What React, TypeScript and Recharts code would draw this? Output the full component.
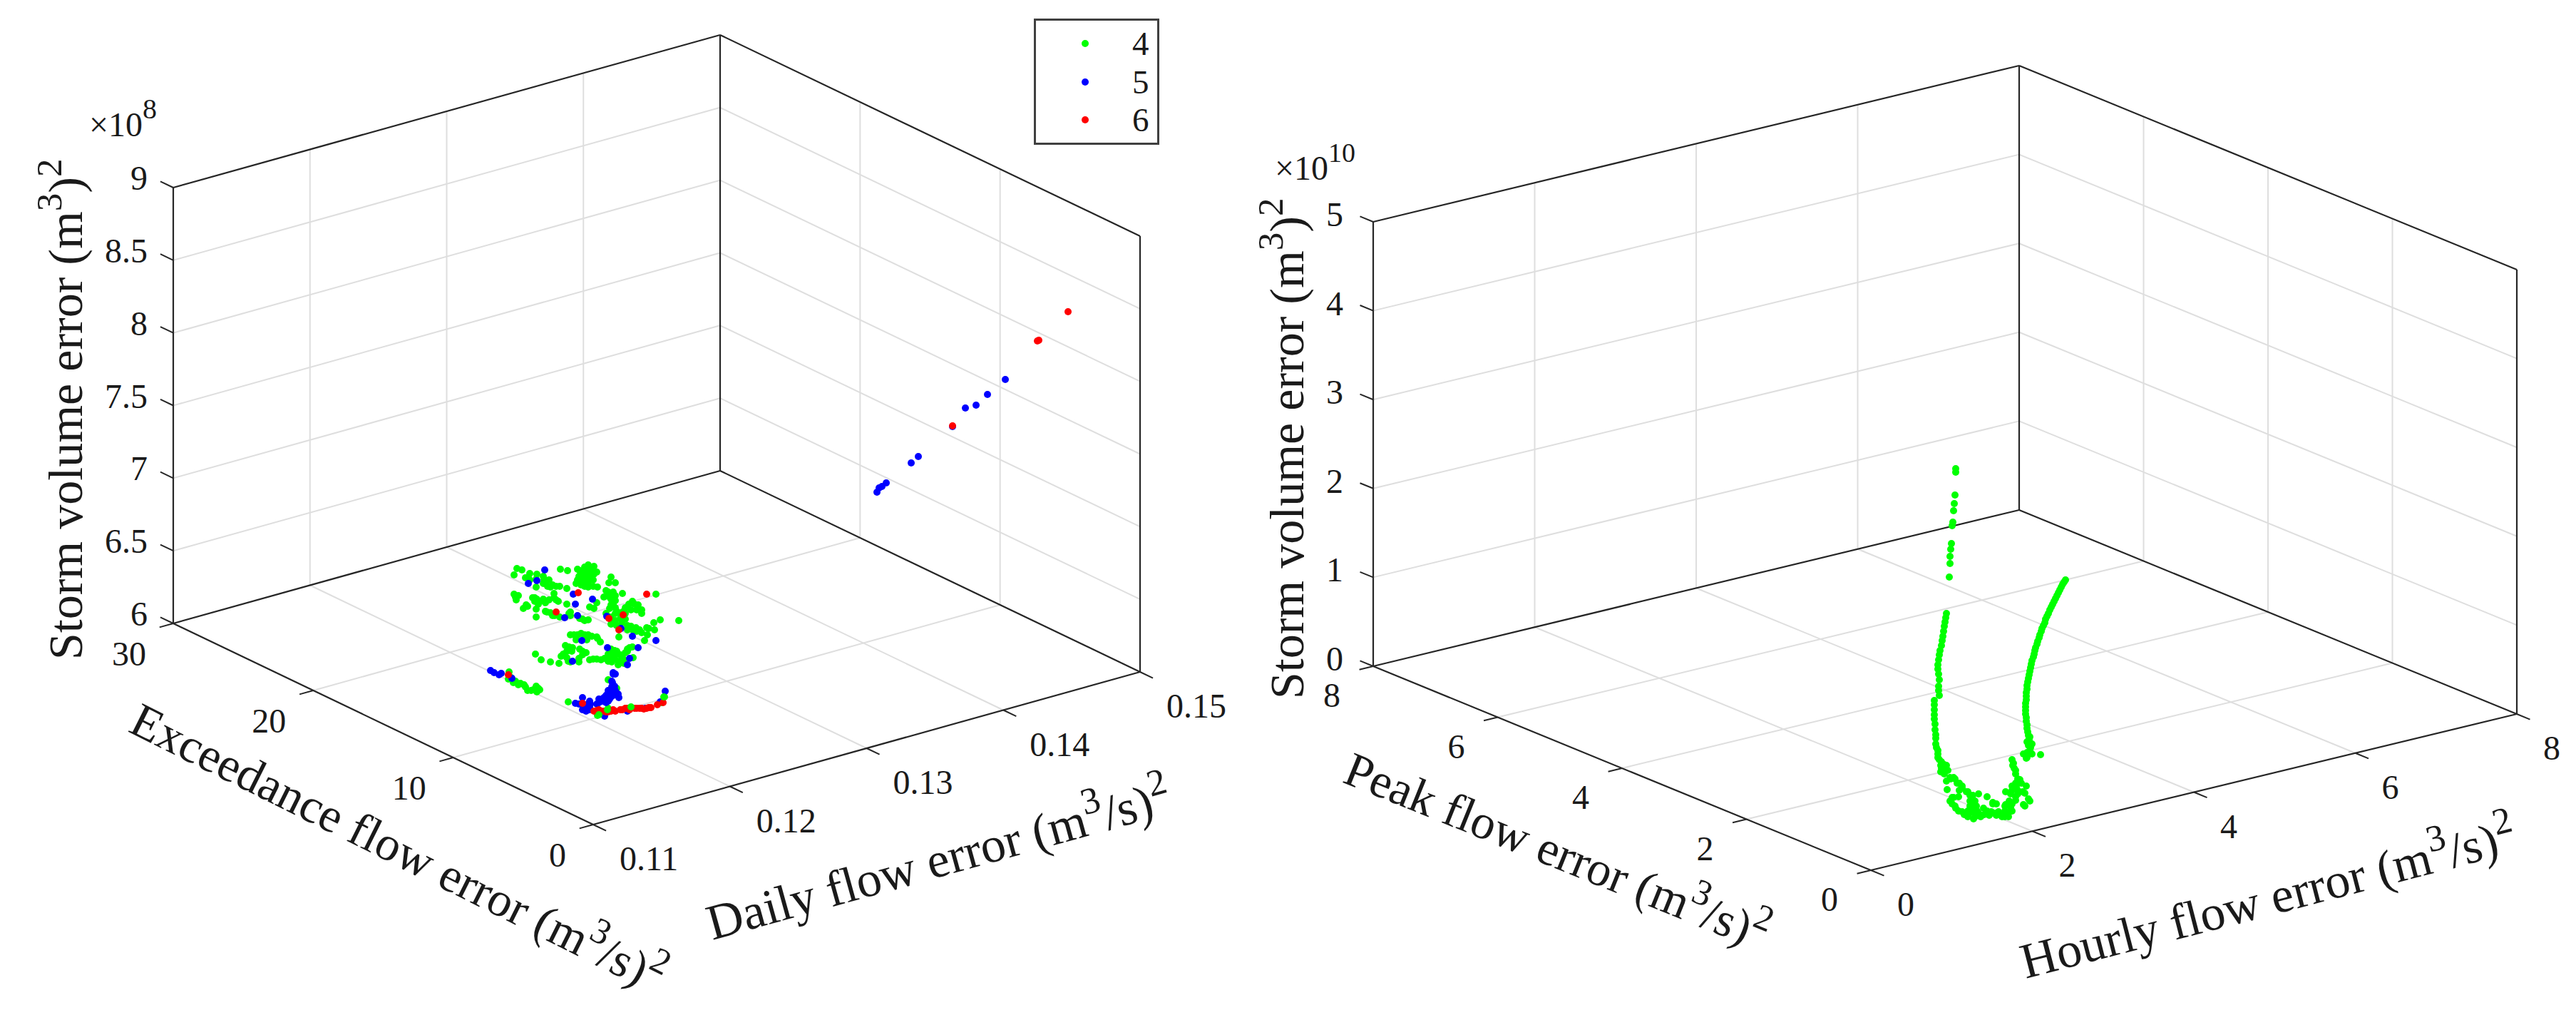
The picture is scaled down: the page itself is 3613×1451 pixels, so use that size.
import {
  Legend,
  ReferenceDot,
  ReferenceLine,
  Scatter,
  ScatterChart,
  XAxis,
  YAxis,
} from "recharts";

type Pair = [number, number];

const FONT = "'Liberation Serif', 'Times New Roman', serif";
const AXIS_COLOR = "#262626";
const GRID_COLOR = "#dedede";
const TEXT_COLOR = "#1a1a1a";

// tick labels
const dailyTicks = ["0.11", "0.12", "0.13", "0.14", "0.15"];
const exceedanceTicks = ["0", "10", "20", "30"];
const volumeTicksLeft = ["6", "6.5", "7", "7.5", "8", "8.5", "9"];
const hourlyTicks = ["0", "2", "4", "6", "8"];
const peakTicks = ["0", "2", "4", "6", "8"];
const volumeTicksRight = ["0", "1", "2", "3", "4", "5"];

// points, in projected picture coordinates
const cluster4: Pair[] = [
  [725, 797], [732, 799], [721, 806], [743, 804], [741, 810], [753, 805], [752, 812], [763, 812],
  [770, 813], [762, 818], [752, 823], [768, 822], [775, 820], [785, 822], [795, 825], [777, 832],
  [786, 798], [796, 800], [810, 798], [825, 792], [833, 794], [817, 803], [825, 800], [837, 802],
  [812, 808], [828, 808], [817, 815], [808, 818], [825, 817], [838, 823], [825, 823], [815, 820],
  [857, 809], [854, 817], [863, 817], [721, 833], [724, 841], [727, 835], [747, 838], [753, 840],
  [762, 840], [755, 847], [770, 841], [780, 841], [740, 850], [734, 853], [752, 854], [752, 865],
  [765, 857], [772, 859], [778, 863], [795, 847], [798, 860], [800, 863], [817, 868], [825, 869],
  [850, 828], [860, 830], [873, 832], [855, 837], [847, 837], [863, 835], [920, 833], [857, 848],
  [863, 852], [827, 851], [837, 845], [833, 853], [887, 843], [895, 848], [880, 851], [900, 860],
  [885, 855], [877, 860], [850, 860], [863, 860], [870, 867], [858, 873], [877, 868], [865, 877],
  [917, 873], [926, 869], [952, 870], [885, 878], [897, 883], [910, 881], [918, 883], [908, 890],
  [904, 898], [868, 893], [882, 880], [892, 880], [805, 890], [815, 888], [825, 890], [837, 893],
  [842, 900], [823, 897], [808, 897], [793, 905], [803, 908], [795, 913], [817, 913], [787, 920],
  [795, 922], [751, 917], [759, 925], [772, 928], [784, 930], [800, 928], [812, 928], [817, 918],
  [832, 924], [843, 925], [853, 927], [860, 917], [862, 923], [870, 918], [870, 928], [857, 910],
  [865, 913], [880, 913], [887, 907], [888, 922], [875, 925], [714, 942], [713, 952], [720, 957],
  [727, 960], [735, 960], [740, 968], [748, 967], [755, 965], [753, 970], [797, 984], [853, 953],
  [865, 965], [932, 977], [928, 985], [838, 1003], [853, 993], [885, 992], [847, 1002],
  [820, 795], [830, 798], [813, 800], [822, 805], [833, 805], [817, 810], [823, 812], [832, 813],
  [810, 813], [820, 822], [832, 822], [737, 810], [743, 813], [762, 808], [765, 817], [772, 823],
  [780, 822], [723, 837], [750, 843], [758, 843], [765, 845], [777, 838], [783, 843], [738, 848],
  [750, 838], [767, 858], [775, 863], [785, 865], [800, 858], [813, 867], [820, 870], [853, 830],
  [857, 840], [863, 842], [860, 847], [855, 853], [865, 857], [877, 852], [882, 847], [890, 847],
  [900, 855], [893, 855], [873, 858], [870, 860], [857, 865], [863, 870], [872, 873], [857, 875],
  [880, 877], [887, 883], [900, 887], [907, 880], [880, 883], [893, 885], [853, 917], [857, 922],
  [863, 918], [867, 927], [873, 922], [875, 930], [867, 932], [858, 928], [877, 915], [862, 912],
  [848, 923], [837, 924], [827, 925], [800, 890], [810, 890], [820, 890], [830, 892], [838, 895],
  [802, 913], [790, 917], [798, 907], [813, 910], [822, 915], [812, 923], [797, 927], [880, 910],
  [883, 908], [717, 950], [723, 955], [730, 958], [737, 963], [745, 968], [752, 962], [757, 967],
];

const cluster5: Pair[] = [
  [764, 799], [741, 818], [753, 814], [804, 833], [831, 840], [807, 847], [792, 866], [810, 863],
  [851, 864], [871, 881], [887, 892], [920, 898], [816, 898], [852, 908], [895, 908], [883, 923],
  [880, 932], [803, 927], [688, 940], [693, 943], [700, 946], [703, 944], [718, 951], [860, 943],
  [863, 945], [859, 957], [858, 963], [853, 968], [863, 968], [850, 975], [860, 975], [845, 980],
  [855, 980], [840, 985], [850, 985], [867, 973], [868, 978], [817, 978], [807, 986], [827, 983],
  [818, 993], [827, 995], [837, 987], [933, 969], [926, 984], [905, 993], [880, 997], [848, 1004],
  [823, 988], [857, 970], [852, 973], [862, 972], [847, 978], [857, 977], [840, 980], [845, 983],
  [853, 983], [858, 955], [862, 962], [860, 945], [822, 997], [827, 992], [817, 995], [828, 987],
  [812, 987], [1230, 690], [1233, 684], [1237, 682], [1243, 677], [1278, 649], [1288, 640],
  [1336, 598], [1354, 572], [1369, 568], [1385, 553], [1410, 532],
];

const cluster6: Pair[] = [
  [811, 831], [907, 833], [780, 858], [874, 862], [854, 867], [868, 883], [817, 986], [837, 996],
  [843, 997], [850, 998], [857, 997], [863, 997], [870, 995], [877, 993], [883, 995], [890, 993],
  [897, 993], [903, 994], [910, 992], [913, 992], [922, 988], [930, 985], [840, 995], [713, 946],
  [833, 997], [847, 997], [853, 998], [860, 995], [873, 995], [880, 993], [893, 993], [900, 993],
  [907, 993], [1336, 597], [1457, 477], [1455, 478], [1498, 437],
];

// the few green points that sit over the red tail
const clusterOver4: Pair[] = [[840, 1002], [852, 995], [885, 991], [931, 977]];

const curve4: Pair[] = [
  [2743, 657], [2743, 662], [2742, 694], [2741, 706], [2740, 716], [2739, 732], [2738, 737],
  [2737, 762], [2736, 770], [2735, 780], [2735, 790], [2734, 809],
  [2730, 860], [2729, 866], [2728, 872], [2727, 878], [2726, 885], [2725, 892], [2724, 898],
  [2723, 905], [2721, 912], [2720, 918], [2719, 925], [2718, 932], [2718, 938], [2719, 945],
  [2720, 953], [2719, 962], [2719, 968], [2720, 975], [2713, 982], [2713, 988], [2713, 995],
  [2713, 1002], [2713, 1008], [2714, 1015], [2714, 1023], [2715, 1030], [2715, 1035], [2715, 1043],
  [2716, 1048], [2718, 1052], [2718, 1057], [2718, 1062], [2723, 1068], [2723, 1077], [2730, 1073],
  [2725, 1083], [2732, 1080], [2740, 1090], [2730, 1095], [2736, 1092], [2748, 1098], [2752, 1102],
  [2731, 1107], [2760, 1110], [2748, 1108], [2775, 1113], [2787, 1117], [2738, 1118], [2735, 1123],
  [2742, 1130], [2747, 1137], [2755, 1142], [2762, 1140], [2770, 1145], [2763, 1130], [2770, 1123],
  [2767, 1115], [2780, 1143], [2790, 1143], [2773, 1137], [2782, 1133], [2795, 1127], [2800, 1143],
  [2808, 1145], [2817, 1145], [2822, 1137], [2812, 1137], [2803, 1138], [2793, 1138], [2813, 1128],
  [2822, 1127], [2813, 1110], [2827, 1122], [2820, 1113], [2830, 1113], [2838, 1128], [2847, 1123],
  [2840, 1112], [2842, 1102], [2833, 1093], [2822, 1102], [2828, 1103], [2827, 1085], [2825, 1077],
  [2824, 1070], [2822, 1065], [2862, 1058], [2838, 1057], [2843, 1062], [2850, 1057], [2848, 1048],
  [2843, 1040], [2847, 1033],
  [2720, 1065], [2722, 1073], [2727, 1072], [2728, 1078], [2722, 1082], [2727, 1085], [2735, 1090],
  [2742, 1092], [2745, 1098], [2752, 1105], [2758, 1110], [2763, 1115], [2763, 1123], [2768, 1130],
  [2772, 1130], [2760, 1137], [2752, 1138], [2743, 1133], [2738, 1127], [2740, 1118], [2747, 1117],
  [2775, 1140], [2783, 1142], [2787, 1137], [2767, 1138], [2760, 1145], [2768, 1148], [2778, 1145],
  [2797, 1140], [2807, 1142], [2812, 1145], [2817, 1140], [2820, 1132], [2812, 1130], [2818, 1123],
  [2827, 1117], [2830, 1108], [2822, 1108], [2827, 1098], [2835, 1098], [2830, 1092], [2827, 1080],
  [2823, 1073], [2837, 1110], [2840, 1130], [2845, 1120], [2795, 1125], [2800, 1127], [2843, 1055],
  [2847, 1052], [2842, 1063], [2850, 1043], [2845, 1045],
  [2897, 813], [2895, 816], [2893, 819], [2891, 823], [2889, 827], [2887, 831], [2885, 835],
  [2883, 839], [2881, 843], [2879, 847], [2877, 851], [2875, 855], [2873, 860], [2871, 864],
  [2869, 868], [2868, 873], [2866, 877], [2864, 881], [2863, 885], [2861, 890], [2860, 894],
  [2858, 899], [2857, 903], [2855, 908], [2854, 912], [2853, 917], [2852, 921], [2850, 926],
  [2849, 931], [2848, 936], [2847, 941], [2846, 946], [2845, 951], [2844, 956], [2843, 961],
  [2843, 966], [2842, 971], [2842, 976], [2842, 981], [2841, 986], [2841, 991], [2841, 996],
  [2841, 1001], [2842, 1006], [2842, 1011], [2843, 1016], [2843, 1021], [2844, 1026], [2845, 1031],
  [2846, 1036], [2847, 1041],
];

const rows = (pts: Pair[]) => pts.map(([px, py]) => ({ px, py }));

const dot = (color: string) => (props: unknown) => {
  const p = props as { cx: number; cy: number };
  return <circle cx={p.cx} cy={p.cy} r={5} fill={color} />;
};

// projected box of one 3D panel
interface Box {
  front: Pair;
  left: Pair;
  right: Pair;
  height: number;
}

const leftBox: Box = { front: [832, 1156], left: [243, 874], right: [1599, 942], height: 611 };
const rightBox: Box = { front: [2624, 1220], left: [1926, 934], right: [3530, 1001], height: 623 };

function project(b: Box, fx: number, fy: number, fz = 0): { x: number; y: number } {
  return {
    x: b.front[0] + fx * (b.right[0] - b.front[0]) + fy * (b.left[0] - b.front[0]),
    y: b.front[1] + fx * (b.right[1] - b.front[1]) + fy * (b.left[1] - b.front[1]) - fz * b.height,
  };
}

const fractions = (ticks: string[]) => {
  const lo = Number(ticks[0]);
  const hi = Number(ticks[ticks.length - 1]);
  return ticks.map((t) => (Number(t) - lo) / (hi - lo));
};

type Seg = [{ x: number; y: number }, { x: number; y: number }];

function seg(key: string, s: Seg, color: string, width: number) {
  return (
    <ReferenceLine key={key} segment={s} stroke={color} strokeWidth={width} ifOverflow="visible" />
  );
}

function gridLines(b: Box, xT: string[], yT: string[], zT: string[]) {
  const out = [];
  const inner = (a: number[]) => a.slice(1, -1);
  inner(fractions(xT)).forEach((f, i) => {
    out.push(seg(`gx${i}`, [project(b, f, 0), project(b, f, 1)], GRID_COLOR, 2));
    out.push(seg(`wx${i}`, [project(b, f, 1), project(b, f, 1, 1)], GRID_COLOR, 2));
  });
  inner(fractions(yT)).forEach((f, i) => {
    out.push(seg(`gy${i}`, [project(b, 0, f), project(b, 1, f)], GRID_COLOR, 2));
    out.push(seg(`wy${i}`, [project(b, 1, f), project(b, 1, f, 1)], GRID_COLOR, 2));
  });
  inner(fractions(zT)).forEach((f, i) => {
    out.push(seg(`zl${i}`, [project(b, 0, 1, f), project(b, 1, 1, f)], GRID_COLOR, 2));
    out.push(seg(`zr${i}`, [project(b, 1, 1, f), project(b, 1, 0, f)], GRID_COLOR, 2));
  });
  return out;
}

function frameLines(b: Box) {
  const edges: Seg[] = [
    [project(b, 0, 0), project(b, 1, 0)],
    [project(b, 0, 0), project(b, 0, 1)],
    [project(b, 0, 1), project(b, 1, 1)],
    [project(b, 1, 0), project(b, 1, 1)],
    [project(b, 0, 1, 1), project(b, 1, 1, 1)],
    [project(b, 1, 1, 1), project(b, 1, 0, 1)],
    [project(b, 0, 1), project(b, 0, 1, 1)],
    [project(b, 1, 1), project(b, 1, 1, 1)],
    [project(b, 1, 0), project(b, 1, 0, 1)],
  ];
  return edges.map((s, i) => seg(`edge${i}`, s, AXIS_COLOR, 2.2));
}

function tickMarks(b: Box, xT: string[], yT: string[], zT: string[]) {
  const unit = (a: Pair, c: Pair, len: number): Pair => {
    const dx = c[0] - a[0];
    const dy = c[1] - a[1];
    const n = Math.hypot(dx, dy);
    return [(dx / n) * len, (dy / n) * len];
  };
  const out = [];
  const alongY = unit(b.left, b.front, 20);
  const alongX = unit(b.right, b.front, 20);
  fractions(xT).forEach((f, i) => {
    const p = project(b, f, 0);
    out.push(seg(`tx${i}`, [p, { x: p.x + alongY[0], y: p.y + alongY[1] }], AXIS_COLOR, 2));
  });
  fractions(yT).forEach((f, i) => {
    const p = project(b, 0, f);
    out.push(seg(`ty${i}`, [p, { x: p.x + alongX[0], y: p.y + alongX[1] }], AXIS_COLOR, 2));
  });
  fractions(zT).forEach((f, i) => {
    const p = project(b, 0, 1, f);
    out.push(seg(`tz${i}`, [p, { x: p.x - alongY[0], y: p.y - alongY[1] }], AXIS_COLOR, 2));
  });
  return out;
}

type Part = [string, boolean?];

// free text placed through the chart's scales
function note(key: string, x: number, y: number, parts: Part[], o: {
  size: number;
  anchor?: "start" | "middle" | "end";
  angle?: number;
  central?: boolean;
  supSize?: number;
  supRise?: number;
}) {
  const render = (props: any) => {
    const vb = props.viewBox ?? {};
    const px = vb.x ?? x;
    const py = vb.y ?? y;
    const rise = o.supRise ?? o.size * 0.42;
    let raised = false;
    return (
      <text
        x={px}
        y={py}
        fontFamily={FONT}
        fontSize={o.size}
        fill={TEXT_COLOR}
        textAnchor={o.anchor ?? "start"}
        dominantBaseline={o.central ? "central" : "auto"}
        transform={o.angle ? `rotate(${o.angle} ${px} ${py})` : undefined}
      >
        {parts.map(([t, sup], i) => {
          const dy = sup ? (raised ? 0 : -rise) : raised ? rise : 0;
          raised = !!sup;
          return (
            <tspan key={i} dy={dy} fontSize={sup ? o.supSize ?? o.size * 0.75 : o.size}>
              {t}
            </tspan>
          );
        })}
      </text>
    );
  };
  return (
    <ReferenceDot key={key} x={x} y={y} r={0} fill="none" stroke="none" ifOverflow="visible" label={render} />
  );
}

const TICK_SIZE = 48;

function tickLabels(
  b: Box,
  xT: string[],
  yT: string[],
  zT: string[],
  off: { x: Pair; y: Pair; z: Pair },
) {
  const out = [];
  fractions(xT).forEach((f, i) => {
    const p = project(b, f, 0);
    out.push(note(`lx${i}`, p.x + off.x[0], p.y + off.x[1], [[xT[i]]], { size: TICK_SIZE, central: true }));
  });
  fractions(yT).forEach((f, i) => {
    const p = project(b, 0, f);
    out.push(note(`ly${i}`, p.x + off.y[0], p.y + off.y[1], [[yT[i]]], { size: TICK_SIZE, anchor: "end", central: true }));
  });
  fractions(zT).forEach((f, i) => {
    const p = project(b, 0, 1, f);
    out.push(note(`lz${i}`, p.x + off.z[0], p.y + off.z[1], [[zT[i]]], { size: TICK_SIZE, anchor: "end", central: true }));
  });
  return out;
}

function GroupLegend(props: any) {
  const entries = (props.payload ?? []).filter((e: any) => e.type !== "none" && e.value !== "4 over");
  return (
    <div
      style={{
        boxSizing: "border-box",
        width: 176,
        height: 177,
        border: "3px solid #404040",
        background: "#fff",
        fontFamily: FONT,
        fontSize: 47,
        color: TEXT_COLOR,
        position: "relative",
      }}
    >
      {entries.map((e: any, i: number) => (
        <div key={e.value} style={{ position: "absolute", top: 5 + i * 53.5, left: 0, width: "100%", height: 54 }}>
          <span
            style={{
              position: "absolute",
              left: 64,
              top: 22,
              width: 10,
              height: 10,
              borderRadius: 5,
              background: e.color,
            }}
          />
          <span style={{ position: "absolute", left: 135, top: 0, lineHeight: "54px" }}>{e.value}</span>
        </div>
      ))}
    </div>
  );
}

const axes = (w: number, h: number, x0: number) => (
  <>
    <XAxis dataKey="px" type="number" domain={[x0, x0 + w]} hide allowDataOverflow />
    <YAxis dataKey="py" type="number" domain={[0, h]} reversed hide allowDataOverflow />
  </>
);

export default function App() {
  const split = 1730;
  const W = 3613;
  const H = 1451;
  return (
    <div style={{ position: "absolute", left: 0, top: 0, width: W, height: H, background: "#fff" }}>
      <div style={{ position: "absolute", left: 0, top: 0 }}>
        <ScatterChart width={split} height={H} margin={{ top: 0, right: 0, bottom: 0, left: 0 }}>
          {axes(split, H, 0)}
          {gridLines(leftBox, dailyTicks, exceedanceTicks, volumeTicksLeft)}
          {frameLines(leftBox)}
          {tickMarks(leftBox, dailyTicks, exceedanceTicks, volumeTicksLeft)}
          {tickLabels(leftBox, dailyTicks, exceedanceTicks, volumeTicksLeft, {
            x: [37, 47],
            y: [-38, 42],
            z: [-36, -14],
          })}
          {note("expL", 125, 191, [["×10"], ["8", true]], { size: 48, supSize: 40, supRise: 25 })}
          {note("zL", 115, 925, [["Storm volume error (m"], ["3", true], [")"], ["2", true]], { size: 68, angle: -90 })}
          {note("xL", 999, 1318, [["Daily flow error (m"], ["3", true], ["/s)"], ["2", true]], { size: 70, angle: -15.5 })}
          {note("yL", 178, 1025, [["Exceedance flow error (m"], ["3", true], ["/s)"], ["2", true]], { size: 68, angle: 26.5 })}
          <Scatter name="4" data={rows(cluster4)} fill="#00ff00" shape={dot("#00ff00")} isAnimationActive={false} />
          <Scatter name="5" data={rows(cluster5)} fill="#0000ff" shape={dot("#0000ff")} isAnimationActive={false} />
          <Scatter name="6" data={rows(cluster6)} fill="#ff0000" shape={dot("#ff0000")} isAnimationActive={false} />
          <Scatter name="4 over" legendType="none" data={rows(clusterOver4)} fill="#00ff00" shape={dot("#00ff00")} isAnimationActive={false} />
          <Legend
            layout="vertical"
            align="center"
            verticalAlign="middle"
            wrapperStyle={{ left: 1450, top: 26, width: 176, height: 177, margin: 0 }}
            content={<GroupLegend />}
          />
        </ScatterChart>
      </div>
      <div style={{ position: "absolute", left: split, top: 0 }}>
        <ScatterChart width={W - split} height={H} margin={{ top: 0, right: 0, bottom: 0, left: 0 }}>
          {axes(W - split, H, split)}
          {gridLines(rightBox, hourlyTicks, peakTicks, volumeTicksRight)}
          {frameLines(rightBox)}
          {tickMarks(rightBox, hourlyTicks, peakTicks, volumeTicksRight)}
          {tickLabels(rightBox, hourlyTicks, peakTicks, volumeTicksRight, {
            x: [37, 47],
            y: [-46, 40],
            z: [-42, -11],
          })}
          {note("expR", 1788, 252, [["×10"], ["10", true]], { size: 48, supSize: 38, supRise: 25 })}
          {note("zR", 1828, 980, [["Storm volume error (m"], ["3", true], [")"], ["2", true]], { size: 68, angle: -90 })}
          {note("xR", 2841, 1372, [["Hourly flow error (m"], ["3", true], ["/s)"], ["2", true]], { size: 70, angle: -14.5 })}
          {note("yR", 1881, 1096, [["Peak flow error (m"], ["3", true], ["/s)"], ["2", true]], { size: 68, angle: 22 })}
          <Scatter name="4" data={rows(curve4)} fill="#00ff00" shape={dot("#00ff00")} isAnimationActive={false} />
        </ScatterChart>
      </div>
    </div>
  );
}
